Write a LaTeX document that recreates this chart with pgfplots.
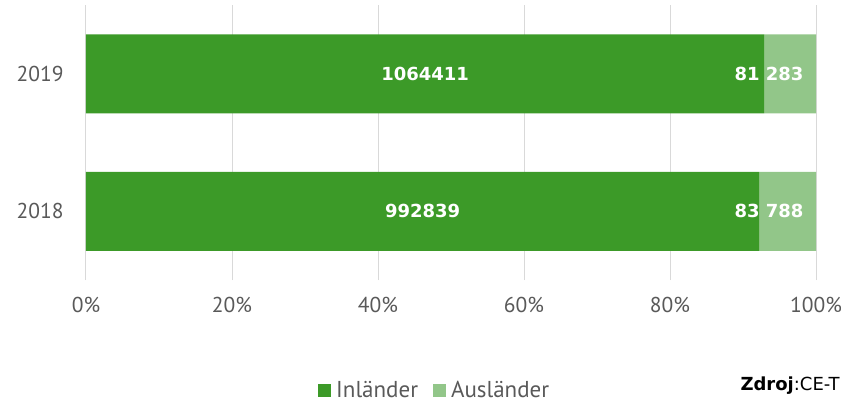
\documentclass[border=0pt]{standalone}
\usepackage{fontspec}
\setmainfont{PT Sans}
\newfontfamily\labfont{DejaVu Sans}
\usepackage{pgfplots}
\usepackage{pgfplotstable}
\pgfplotsset{compat=1.18}
\definecolor{inl}{RGB}{60,154,40}
\definecolor{aus}{RGB}{146,198,137}
\definecolor{txt}{RGB}{89,89,89}
\definecolor{gridc}{RGB}{217,217,217}

\pgfplotstableread{
pos year inl aus
0 2018 992839 83788
1 2019 1064411 81283
}\visits

\pgfplotsset{frame/.style={
    at={(86bp,-280bp)}, anchor=south west,
    scale only axis, width=730bp, height=275bp,
    xmin=0, xmax=100, ymin=-0.5, ymax=1.5,
    /pgf/number format/assume math mode=true}}

\begin{document}
\begin{tikzpicture}
\path[use as bounding box] (0,0) rectangle (841bp,-405bp);
\begin{axis}[frame,
    xbar stacked, bar width=79bp,
    xtick={0,20,...,100},
    xticklabel={\pgfmathprintnumber{\tick}\%},
    ytick={0,1}, yticklabels={2018,2019},
    tick label style={font=\fontsize{21.5bp}{25bp}\selectfont, text=txt},
    xticklabel style={yshift=-14bp},
    yticklabel style={xshift=-19bp},
    axis line style={draw=none},
    major tick length=0pt,
    xmajorgrids, grid style={gridc, line width=1bp},
    legend style={at={(0.477,-0.40)}, anchor=center, draw=none, fill=none,
        inner sep=0pt, nodes={inner sep=1bp},
        legend columns=2, font=\fontsize{23bp}{25bp}\selectfont, text=txt,
        /tikz/every even column/.append style={column sep=14bp}},
    legend image code/.code={\fill[#1] (0bp,-6.5bp) rectangle (13bp,6.5bp); \path (17bp,0bp);},
]
\addplot[fill=inl, draw=none]
    table[x expr={\thisrow{inl}/(\thisrow{inl}+\thisrow{aus})*100}, y=pos] {\visits};
\addplot[fill=aus, draw=none]
    table[x expr={\thisrow{aus}/(\thisrow{inl}+\thisrow{aus})*100}, y=pos] {\visits};
\legend{Inländer, Ausländer}
\end{axis}
\begin{axis}[frame, hide axis,
    every node near coord/.append style={font=\labfont\bfseries\fontsize{18bp}{21bp}\selectfont, text=white}]
\addplot[draw=none, mark=none, point meta=explicit,
    nodes near coords={\pgfmathprintnumber[fixed, precision=0, 1000 sep={}]{\pgfplotspointmeta}},
    every node near coord/.append style={anchor=center}]
    table[x expr={\thisrow{inl}/(\thisrow{inl}+\thisrow{aus})*50}, y=pos, meta=inl] {\visits};
\addplot[draw=none, mark=none, point meta=explicit,
    nodes near coords={\pgfmathprintnumber[fixed, precision=0, 1000 sep={\ }]{\pgfplotspointmeta}},
    every node near coord/.append style={anchor=east, xshift=-9bp}]
    table[x expr={(\thisrow{inl}+\thisrow{aus})/(\thisrow{inl}+\thisrow{aus})*100}, y=pos, meta=aus] {\visits};
\end{axis}
\node[anchor=base west, font=\labfont\fontsize{18bp}{21bp}\selectfont] at (737bp,-390bp) {\textbf{Zdroj}:CE-T};
\end{tikzpicture}
\end{document}
